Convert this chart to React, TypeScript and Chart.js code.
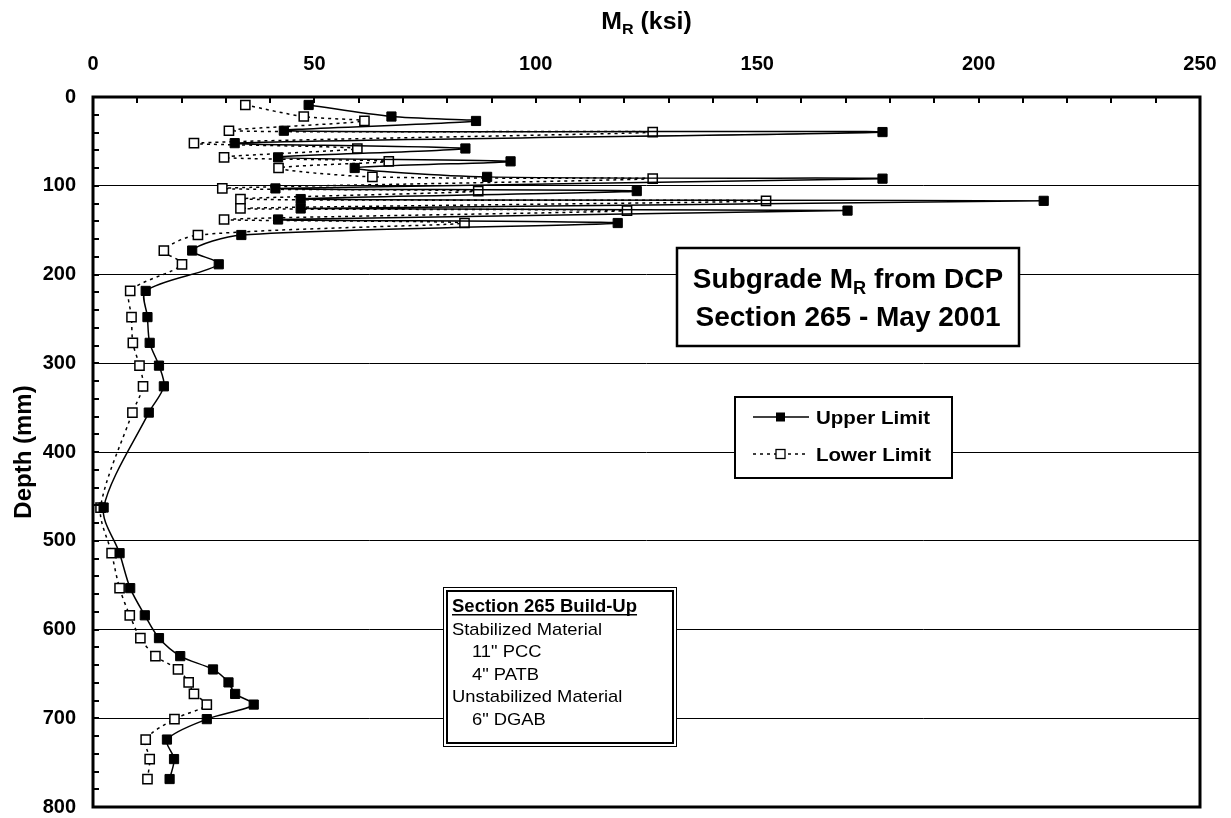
import React, { useEffect, useRef } from "react";
import { Chart, registerables } from "chart.js";

Chart.register(...registerables);

// ---- data ----
const depthMm = [
  9, 22, 27, 38, 39.5, 52, 58, 68, 72.5, 80, 90, 92, 103, 106, 115, 117, 125.6, 128, 138, 142,
  155.5, 173, 188.5, 218.5, 248, 277, 302.7, 326, 355.6, 462.6, 514, 553.4, 584, 609.7, 630,
  645, 659.6, 672.6, 684.6, 701, 724, 746, 768.5,
];
const upperLimit = [
  48.7, 67.4, 86.5, 43.1, 178.3, 32.0, 84.1, 41.8, 94.3, 59.1, 89.0, 178.3, 41.2, 122.8, 46.9,
  214.7, 46.9, 170.4, 41.8, 118.5, 33.5, 22.4, 28.4, 11.9, 12.3, 12.8, 14.9, 16.0, 12.6, 2.4,
  6.0, 8.4, 11.7, 14.9, 19.7, 27.1, 30.6, 32.1, 36.3, 25.7, 16.7, 18.3, 17.3,
];
const lowerLimit = [
  34.4, 47.6, 61.3, 30.7, 126.4, 22.8, 59.7, 29.6, 66.8, 41.9, 63.1, 126.4, 29.2, 87.0, 33.3,
  152.0, 33.3, 120.6, 29.6, 83.9, 23.7, 16.0, 20.1, 8.4, 8.7, 9.0, 10.5, 11.3, 8.9, 1.7, 4.2,
  6.0, 8.3, 10.7, 14.1, 19.2, 21.6, 22.8, 25.7, 18.4, 11.9, 12.8, 12.3,
];
const seriesNames = ["Upper Limit", "Lower Limit"];
const xAxisTitle = [{ t: "M" }, { t: "R", sub: true }, { t: " (ksi)" }];
const yAxisTitle = "Depth (mm)";
const titleLine1 = [{ t: "Subgrade M" }, { t: "R", sub: true }, { t: " from DCP" }];
const titleLine2 = [{ t: "Section 265 - May 2001" }];
const buildUpLines = [
  { t: "Section 265 Build-Up", head: true, indent: 0 },
  { t: "Stabilized Material", head: false, indent: 0 },
  { t: "11\" PCC", head: false, indent: 1 },
  { t: "4\" PATB", head: false, indent: 1 },
  { t: "Unstabilized Material", head: false, indent: 0 },
  { t: "6\" DGAB", head: false, indent: 1 },
];

const FONT = "'Liberation Sans', Arial, Helvetica, sans-serif";

type Part = { t: string; sub?: boolean };

function partsWidth(ctx: CanvasRenderingContext2D, parts: Part[], size: number, weight: string) {
  let w = 0;
  for (const p of parts) {
    ctx.font = `${weight} ${p.sub ? size * 0.65 : size}px ${FONT}`;
    w += ctx.measureText(p.t).width;
  }
  return w;
}

function drawParts(
  ctx: CanvasRenderingContext2D,
  parts: Part[],
  x: number,
  y: number,
  size: number,
  weight: string,
  align: "left" | "center",
  sx = 1
) {
  ctx.save();
  ctx.translate(x, y);
  ctx.scale(sx, 1);
  const w = partsWidth(ctx, parts, size, weight);
  let cx = align === "center" ? -w / 2 : 0;
  ctx.textBaseline = "alphabetic";
  ctx.textAlign = "left";
  ctx.fillStyle = "#000";
  for (const p of parts) {
    const s = p.sub ? size * 0.65 : size;
    ctx.font = `${weight} ${s}px ${FONT}`;
    ctx.fillText(p.t, cx, p.sub ? size * 0.22 : 0);
    cx += ctx.measureText(p.t).width;
  }
  ctx.restore();
  return w * sx;
}

const decorPlugin = {
  id: "decor",
  afterDraw(chart: any) {
    const ctx: CanvasRenderingContext2D = chart.ctx;
    const { left, right, top, bottom } = chart.chartArea;
    const xs = chart.scales.x;
    const ys = chart.scales.y;
    ctx.save();

    // minor ticks (inward)
    ctx.strokeStyle = "#000";
    ctx.lineWidth = 2;
    for (let v = 0; v <= 250; v += 10) {
      const px = Math.round(xs.getPixelForValue(v));
      ctx.beginPath();
      ctx.moveTo(px, top);
      ctx.lineTo(px, top + 6);
      ctx.stroke();
    }
    for (let v = 0; v <= 800; v += 20) {
      const py = Math.round(ys.getPixelForValue(v));
      ctx.beginPath();
      ctx.moveTo(left, py);
      ctx.lineTo(left + 6, py);
      ctx.stroke();
    }

    // plot border
    ctx.lineWidth = 3;
    ctx.strokeRect(left, top, right - left, bottom - top);

    // axis titles
    drawParts(ctx, xAxisTitle, (left + right) / 2, 29, 23, "bold", "center", 1.08);
    ctx.save();
    ctx.translate(31, (top + bottom) / 2);
    ctx.rotate(-Math.PI / 2);
    drawParts(ctx, [{ t: yAxisTitle }], 0, 0, 24, "bold", "center");
    ctx.restore();

    // title box
    ctx.fillStyle = "#fff";
    ctx.fillRect(677, 248, 342, 98);
    ctx.lineWidth = 2.5;
    ctx.strokeStyle = "#000";
    ctx.strokeRect(677, 248, 342, 98);
    drawParts(ctx, titleLine1, 848, 288, 28, "bold", "center");
    drawParts(ctx, titleLine2, 848, 326, 28, "bold", "center");

    // legend box
    ctx.fillStyle = "#fff";
    ctx.fillRect(735, 397, 217, 81);
    ctx.lineWidth = 2;
    ctx.strokeRect(735, 397, 217, 81);
    const ly = [417, 454];
    for (let i = 0; i < 2; i++) {
      ctx.save();
      ctx.strokeStyle = "#000";
      ctx.lineWidth = 1.5;
      ctx.setLineDash(i === 0 ? [] : [3, 4]);
      ctx.beginPath();
      ctx.moveTo(753, ly[i]);
      ctx.lineTo(809, ly[i]);
      ctx.stroke();
      ctx.setLineDash([]);
      if (i === 0) {
        ctx.fillStyle = "#000";
        ctx.fillRect(776, ly[i] - 4.5, 9, 9);
      } else {
        ctx.fillStyle = "#fff";
        ctx.fillRect(776, ly[i] - 4.5, 9, 9);
        ctx.lineWidth = 1.3;
        ctx.strokeRect(776, ly[i] - 4.5, 9, 9);
      }
      ctx.restore();
      drawParts(ctx, [{ t: chart.data.datasets[i].label }], 816, ly[i] + 7, 19, "bold", "left", 1.08);
    }

    // build-up box (double border)
    ctx.fillStyle = "#fff";
    ctx.fillRect(443, 587, 234, 160);
    ctx.strokeStyle = "#000";
    ctx.lineWidth = 1;
    ctx.strokeRect(443.5, 587.5, 233, 159);
    ctx.lineWidth = 2;
    ctx.strokeRect(447, 591, 226, 152);
    let by = 612;
    for (const ln of buildUpLines) {
      const x = 452 + ln.indent * 20;
      const w = ln.head
        ? drawParts(ctx, [{ t: ln.t }], x, by, 18.5, "bold", "left", 1.0)
        : drawParts(ctx, [{ t: ln.t }], x, by, 17, "normal", "left", 1.08);
      if (ln.head) {
        ctx.fillStyle = "#000";
        ctx.fillRect(x, by + 2, w, 1.5);
      }
      by += 22.6;
    }

    ctx.restore();
  },
};

export default function App() {
  const ref = useRef<HTMLCanvasElement | null>(null);
  useEffect(() => {
    if (!ref.current) return;
    const tickFont = { family: FONT, size: 20, weight: "bold" as const };
    const chart = new Chart(ref.current, {
      type: "scatter",
      data: {
        datasets: [
          {
            label: seriesNames[0],
            data: depthMm.map((d, i) => ({ x: upperLimit[i], y: d })),
            showLine: true,
            borderColor: "#000",
            borderWidth: 1.5,
            tension: 0.3,
            pointStyle: "rect",
            pointRadius: 6.5,
            pointBackgroundColor: "#000",
            pointBorderColor: "#000",
            pointBorderWidth: 1,
          },
          {
            label: seriesNames[1],
            data: depthMm.map((d, i) => ({ x: lowerLimit[i], y: d })),
            showLine: true,
            borderColor: "#000",
            borderWidth: 1.5,
            borderDash: [3, 4],
            tension: 0.3,
            pointStyle: "rect",
            pointRadius: 6.5,
            pointBackgroundColor: "#fff",
            pointBorderColor: "#000",
            pointBorderWidth: 1.5,
          },
        ],
      },
      options: {
        animation: false,
        responsive: true,
        maintainAspectRatio: false,
        layout: { padding: { left: 0, top: 0, right: 31, bottom: 11 } },
        plugins: { legend: { display: false }, tooltip: { enabled: false } },
        scales: {
          x: {
            type: "linear",
            position: "top",
            min: 0,
            max: 250,
            ticks: { stepSize: 50, font: tickFont, color: "#000", padding: 21, maxRotation: 0 },
            grid: { display: false, drawTicks: false },
            border: { display: false },
            afterFit: (s: any) => {
              s.height = 97;
              s.paddingLeft = 0;
              s.paddingRight = 0;
              s.paddingTop = 0;
              s.paddingBottom = 0;
            },
          },
          y: {
            type: "linear",
            reverse: true,
            min: 0,
            max: 800,
            ticks: { stepSize: 100, font: tickFont, color: "#000", padding: 17 },
            grid: { color: "#000", lineWidth: 1, drawTicks: false },
            border: { display: false },
            afterFit: (s: any) => {
              s.width = 93;
              s.paddingLeft = 0;
              s.paddingRight = 0;
              s.paddingTop = 0;
              s.paddingBottom = 0;
            },
          },
        },
      },
      plugins: [decorPlugin],
    });
    return () => chart.destroy();
  }, []);
  return (
    <div style={{ position: "fixed", left: 0, top: 0, width: 1231, height: 818, background: "#fff" }}>
      <canvas ref={ref} />
    </div>
  );
}
